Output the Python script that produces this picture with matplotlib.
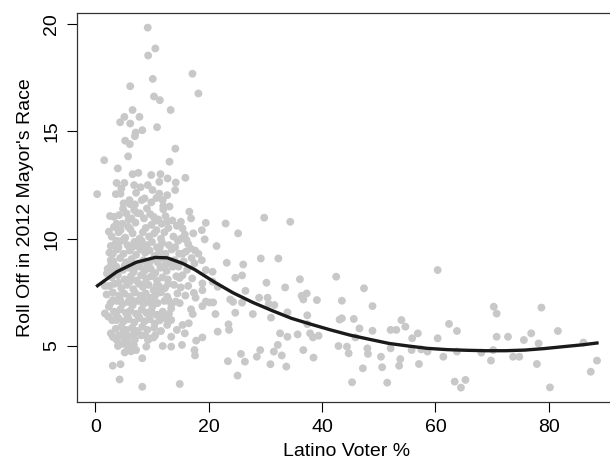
import numpy as np
import matplotlib
matplotlib.use("Agg")
import matplotlib.pyplot as plt

# Scattered precincts (Latino voter %, roll off %)
sparse_pts = [
    (9.26, 19.84), (10.6, 18.87), (9.33, 18.54), (17.15, 17.69), (10.15, 17.45),
    (6.17, 17.11), (18.2, 16.77), (10.36, 16.63), (11.4, 16.46), (6.58, 16.0),
    (13.3, 16.0), (5.14, 15.68), (7.8, 15.68), (4.39, 15.43), (6.17, 15.37),
    (10.9, 15.2), (8.3, 15.06), (7.13, 14.95), (7.0, 14.78), (5.28, 14.57),
    (6.1, 14.41), (14.13, 14.2), (5.8, 13.84), (1.58, 13.66), (13.1, 13.59),
    (3.98, 13.28), (6.58, 13.01), (7.6, 13.07), (9.88, 12.97), (11.5, 13.01),
    (12.76, 12.81), (15.9, 12.84), (3.77, 12.6), (5.14, 12.6), (14.2, 12.62),
    (11.3, 12.65), (9.26, 12.5), (6.86, 12.5), (4.6, 12.34), (10.1, 12.27),
    (14.1, 12.27), (0.34, 12.08), (3.63, 12.08), (7.2, 12.14), (11.3, 12.1),
    (12.7, 12.03), (8.7, 11.88), (8.2, 11.8), (5.0, 11.65), (6.17, 11.61),
    (12.0, 11.52), (9.12, 11.41), (12.0, 11.37), (16.6, 11.26), (7.9, 11.18),
    (2.6, 11.06), (3.3, 11.02), (10.3, 11.02), (29.8, 10.98), (16.9, 10.95),
    (6.38, 10.95), (10.6, 10.84), (12.7, 10.79), (34.4, 10.79), (23.0, 10.71),
    (19.5, 10.74), (15.1, 10.79), (2.4, 10.33), (25.2, 10.25), (15.4, 10.48),
    (17.3, 10.25), (18.8, 10.4), (3.77, 9.9), (5.14, 10.0), (15.1, 10.0),
    (19.3, 9.97), (16.1, 9.94), (21.4, 9.66), (2.74, 9.66), (29.2, 9.08),
    (32.3, 9.08), (23.2, 8.88), (26.1, 8.8), (60.4, 8.54), (20.7, 8.46),
    (42.5, 8.23), (24.7, 8.18), (25.9, 8.29), (30.2, 7.95), (36.1, 8.11),
    (33.5, 7.73), (47.4, 7.69), (26.5, 7.57), (20.7, 8.0), (21.6, 7.76),
    (28.9, 7.25), (30.4, 7.25), (23.8, 7.17), (24.3, 7.06), (25.9, 7.02),
    (30.6, 6.96), (31.6, 6.91), (36.7, 7.17), (36.4, 7.34), (37.3, 7.45),
    (39.1, 7.14), (43.5, 7.11), (48.9, 6.86), (70.3, 6.83), (78.7, 6.79),
    (70.8, 6.51), (20.2, 7.03), (20.8, 7.03), (21.2, 6.49), (24.7, 6.55),
    (33.9, 6.57), (37.4, 6.43), (27.8, 6.49), (31.0, 6.32), (43.5, 6.29),
    (43.1, 6.23), (45.6, 6.26), (54.0, 6.21), (62.4, 6.03), (54.7, 5.9),
    (23.5, 6.01), (37.4, 6.02), (46.6, 5.82), (23.6, 5.75), (21.6, 5.67),
    (48.9, 5.71), (52.1, 5.75), (53.1, 5.75), (56.9, 5.59), (63.8, 5.70),
    (81.6, 5.70), (76.9, 5.59), (32.6, 5.59), (35.7, 5.54), (37.9, 5.59),
    (33.9, 5.43), (72.8, 5.43), (70.8, 5.43), (38.4, 5.4), (39.4, 5.48),
    (45.9, 5.4), (55.9, 5.36), (60.4, 5.36), (75.6, 5.28), (78.2, 5.12),
    (86.1, 5.16), (13.4, 4.97), (11.9, 5.0), (17.8, 5.25), (18.9, 5.4),
    (15.3, 5.05), (32.2, 5.05), (42.9, 5.0), (44.4, 4.97), (48.0, 4.89),
    (52.1, 4.89), (55.8, 4.81), (57.5, 4.84), (58.6, 4.74), (61.4, 4.5),
    (63.8, 4.74), (68.1, 4.69), (70.2, 4.81), (73.7, 4.5), (74.8, 4.5),
    (29.1, 4.81), (36.7, 4.81), (28.5, 4.5), (25.7, 4.63), (31.5, 4.74),
    (32.9, 4.56), (38.5, 4.46), (44.7, 4.66), (48.1, 4.63), (50.4, 4.5),
    (53.8, 4.39), (17.5, 4.81), (17.6, 4.56), (7.2, 4.81), (8.3, 4.43),
    (23.4, 4.29), (26.4, 4.27), (30.9, 4.15), (33.7, 4.04), (53.6, 4.08),
    (57.1, 4.16), (69.8, 4.32), (88.5, 4.32), (77.9, 4.16), (3.09, 4.08),
    (4.46, 4.15), (47.2, 3.96), (50.6, 4.01), (87.4, 3.8), (25.1, 3.62),
    (4.3, 3.44), (45.3, 3.31), (51.5, 3.29), (63.4, 3.34), (65.3, 3.42),
    (64.5, 3.06), (80.2, 3.07), (8.3, 3.1), (14.9, 3.23),
]

# Edge of the dense cluster
edge_pts = [
    (15.1, 7.73), (17.4, 7.48), (18.9, 7.6), (17.7, 7.25), (16.9, 6.71),
    (17.2, 6.49), (16.5, 6.06), (15.4, 5.98), (15.8, 5.59), (18.9, 6.86),
    (19.5, 7.07), (18.9, 7.92), (19.5, 8.54), (18.8, 9.0), (17.5, 8.85),
    (18.2, 9.3), (16.8, 9.55), (15.4, 9.3), (14.7, 8.7), (15.4, 8.3),
    (14.9, 8.17), (14.2, 7.07), (13.4, 6.75), (13.4, 6.21), (12.7, 5.98),
    (14.4, 5.75), (13.4, 5.43), (10.6, 5.51), (10.3, 5.4), (9.3, 5.28),
    (9.0, 4.97), (5.83, 5.12), (3.8, 5.28), (3.1, 5.43), (2.74, 5.59),
    (1.7, 6.52), (2.3, 6.37), (3.77, 6.21), (2.4, 6.83), (3.09, 7.14),
    (1.7, 7.8), (2.06, 8.38), (3.1, 8.5), (2.74, 9.0), (3.09, 9.3),
    (3.77, 9.6), (4.46, 10.4), (3.77, 10.7), (5.8, 10.56), (5.5, 11.18),
    (6.86, 11.34), (6.04, 11.8), (4.46, 12.1),
]

# Dense core of low-Latino precincts
dense_pts = [
    (4.2, 11.1), (5.9, 10.9), (7.4, 11.2), (8.6, 10.95), (9.7, 11.15), (11.1, 10.9), (12.4, 11.05), (13.6, 10.85),
    (3.3, 10.55), (4.8, 10.7), (6.2, 10.45), (7.1, 10.75), (8.9, 10.5), (9.9, 10.65), (10.8, 10.4), (11.7, 10.7), (12.9, 10.5), (14.4, 10.6),
    (2.9, 10.1), (4.1, 10.3), (5.3, 10.05), (6.6, 10.25), (7.8, 10.0), (8.4, 10.3), (9.5, 10.1), (10.4, 10.25), (11.6, 10.0), (12.2, 10.3), (13.8, 10.1), (15.8, 10.2),
    (3.5, 9.75), (4.6, 9.9), (5.7, 9.7), (6.9, 9.85), (7.5, 9.65), (8.2, 9.9), (9.1, 9.7), (10.0, 9.85), (10.9, 9.6), (11.8, 9.8), (13.0, 9.7), (14.6, 9.9), (16.4, 9.75),
    (2.5, 9.35), (3.9, 9.5), (5.0, 9.3), (6.1, 9.45), (7.2, 9.25), (8.0, 9.5), (8.8, 9.35), (9.6, 9.45), (10.5, 9.2), (11.3, 9.4), (12.4, 9.3), (13.5, 9.5), (14.8, 9.3), (16.0, 9.4), (17.6, 9.45),
    (3.2, 8.95), (4.4, 9.1), (5.5, 8.9), (6.4, 9.05), (7.6, 8.85), (8.5, 9.0), (9.2, 8.8), (10.2, 9.05), (11.0, 8.9), (12.0, 9.1), (12.9, 8.85), (14.0, 9.0), (15.6, 8.95), (17.0, 9.1),
    (2.2, 8.6), (3.7, 8.7), (4.9, 8.55), (5.9, 8.65), (6.8, 8.45), (7.9, 8.7), (8.7, 8.5), (9.8, 8.6), (10.6, 8.4), (11.5, 8.65), (12.6, 8.5), (13.7, 8.7), (16.2, 8.55),
    (2.9, 8.2), (4.0, 8.3), (5.2, 8.1), (6.3, 8.25), (7.3, 8.05), (8.1, 8.3), (9.0, 8.15), (9.9, 8.25), (10.9, 8.05), (11.9, 8.2), (12.8, 8.1), (14.3, 8.25), (17.1, 8.15),
    (2.5, 7.8), (3.4, 7.9), (4.6, 7.7), (5.6, 7.85), (6.7, 7.65), (7.7, 7.9), (8.4, 7.75), (9.4, 7.85), (10.3, 7.6), (11.2, 7.8), (12.3, 7.7), (13.9, 7.85), (16.4, 7.8),
    (2.0, 7.4), (3.1, 7.5), (4.2, 7.35), (5.1, 7.45), (6.0, 7.3), (7.0, 7.5), (8.0, 7.35), (8.9, 7.45), (9.8, 7.25), (10.7, 7.4), (11.6, 7.5), (12.7, 7.3), (14.5, 7.45), (15.9, 7.35),
    (2.7, 7.0), (3.8, 7.1), (4.8, 6.95), (5.8, 7.05), (6.6, 6.9), (7.5, 7.1), (8.5, 6.95), (9.3, 7.05), (10.1, 6.85), (11.0, 7.0), (12.2, 7.1), (13.4, 6.95), (14.9, 7.0),
    (3.3, 6.6), (4.4, 6.7), (5.4, 6.55), (6.2, 6.65), (7.2, 6.5), (8.2, 6.7), (9.0, 6.55), (9.9, 6.65), (10.8, 6.45), (11.9, 6.6), (13.0, 6.5),
    (3.0, 6.2), (4.1, 6.3), (5.0, 6.15), (5.9, 6.25), (6.9, 6.1), (7.8, 6.3), (8.7, 6.15), (9.6, 6.25), (10.5, 6.05), (11.4, 6.2), (12.4, 6.3),
    (3.6, 5.8), (4.6, 5.9), (5.5, 5.75), (6.5, 5.85), (7.4, 5.7), (8.3, 5.9), (9.2, 5.75), (10.4, 5.85), (11.6, 5.7),
    (3.3, 5.4), (4.2, 5.5), (5.1, 5.35), (6.0, 5.45), (7.0, 5.3), (8.1, 5.5), (9.6, 5.35),
    (4.0, 5.0), (4.9, 5.1), (5.8, 4.95), (6.8, 5.05),
    (5.2, 4.7), (6.3, 4.75),
]

# Second, offset layer of the dense core (sparser)
dense_pts_2 = [
    (4.9, 11.4), (7.0, 11.6), (9.9, 11.7), (8.0, 12.4), (10.8, 11.9), (13.1, 11.5), (11.9, 11.8),
    (4.1, 9.6), (6.5, 9.6), (8.6, 9.6), (11.4, 9.6), (14.1, 9.6),
    (2.8, 8.8), (5.2, 8.75), (7.1, 8.7), (9.5, 8.85), (12.2, 8.75),
    (4.1, 7.95), (6.1, 8.0), (8.9, 7.95), (10.8, 7.8), (12.9, 7.9),
    (4.4, 7.15), (6.4, 7.15), (8.4, 7.2), (10.4, 7.15), (12.9, 7.15),
    (3.7, 6.45), (5.7, 6.4), (7.6, 6.4), (9.5, 6.45), (11.2, 6.45),
    (4.9, 5.6), (6.8, 5.55), (8.8, 5.5),
]

# Smoothed fit
fit_x = [0.4, 3.8, 7.2, 10.6, 12.7, 15.4, 17.5, 20.9, 24.3, 27.8, 31.2, 34.6, 38.1, 41.5,
         44.9, 48.4, 51.8, 55.2, 58.6, 62.1, 65.5, 68.9, 72.4, 75.8, 79.2, 82.6, 86.1, 88.5]
fit_y = [7.81, 8.46, 8.9, 9.13, 9.11, 8.85, 8.57, 8.0, 7.48, 7.03, 6.65, 6.29, 6.01, 5.75,
         5.51, 5.31, 5.12, 5.0, 4.89, 4.83, 4.80, 4.78, 4.78, 4.81, 4.88, 4.97, 5.06, 5.14]

x_ticks = [0, 20, 40, 60, 80]
y_ticks = [5, 10, 15, 20]

plt.rcParams['font.family'] = ['Liberation Sans', 'DejaVu Sans']

pts = np.array(sparse_pts + edge_pts + dense_pts + dense_pts_2)

fig = plt.figure(figsize=(6.1, 4.7), dpi=100)
ax = fig.add_axes([0.1262, 0.1447, 0.885, 0.828])

ax.scatter(pts[:, 0], pts[:, 1], s=32, color='#c8c8c8', edgecolors='none', zorder=2)
ax.plot(fit_x, fit_y, color='#1a1a1a', lw=2.4, zorder=3)

ax.set_xlim(-3.22, 92.0)
ax.set_ylim(2.39, 20.53)
ax.set_xticks(x_ticks)
ax.set_yticks(y_ticks)
ax.tick_params(direction='out', length=7, width=0.8, labelsize=14, pad=5)
ax.tick_params(axis='y', labelrotation=90)
for lab in ax.get_yticklabels():
    lab.set_va('center')
for sp in ax.spines.values():
    sp.set_linewidth(0.9)
    sp.set_color('#333333')

ax.set_xlabel("Latino Voter %", fontsize=14, labelpad=5)
ax.set_ylabel("Roll Off in 2012 Mayor's Race", fontsize=14, labelpad=7)

fig.savefig("out.png", dpi=100)
